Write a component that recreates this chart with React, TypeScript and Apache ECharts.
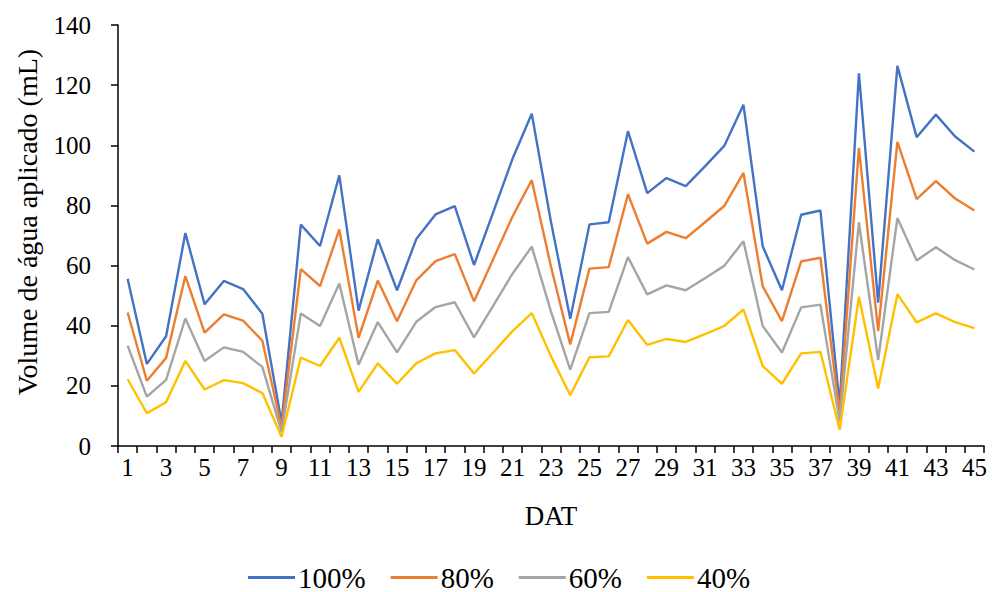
import React, { useEffect, useRef } from "react";
import * as echarts from "echarts";

const categories = Array.from({ length: 45 }, (_, i) => String(i + 1));

const s100 = [55.6, 27.3, 36.5, 70.8, 47.1, 54.9, 52.2, 44.0, 7.8, 73.6, 66.5, 90.0, 45.0, 68.7, 51.8, 68.8, 77.0, 79.8, 60.2, 77.8, 95.5, 110.5, 74.5, 42.3, 73.7, 74.4, 104.7, 84.1, 89.1, 86.4, 93.0, 99.8, 113.5, 66.4, 51.8, 76.9, 78.3, 13.5, 123.9, 47.7, 126.4, 102.7, 110.2, 102.9, 97.9];
const s80 = [44.4, 21.7, 29.3, 56.5, 37.7, 43.8, 41.7, 35.0, 6.2, 58.8, 53.2, 72.0, 36.0, 55.0, 41.5, 55.1, 61.5, 63.8, 48.1, 62.2, 76.3, 88.4, 59.6, 33.8, 59.0, 59.5, 83.7, 67.3, 71.2, 69.1, 74.4, 79.8, 90.8, 53.1, 41.5, 61.4, 62.6, 10.8, 99.1, 38.2, 101.1, 82.1, 88.1, 82.3, 78.3];
const s60 = [33.4, 16.4, 22.0, 42.4, 28.3, 32.8, 31.3, 26.3, 4.7, 44.1, 39.9, 54.0, 27.0, 41.2, 31.1, 41.3, 46.2, 47.8, 36.1, 46.7, 57.3, 66.3, 44.7, 25.4, 44.2, 44.6, 62.8, 50.4, 53.4, 51.8, 55.8, 59.9, 68.1, 39.9, 31.1, 46.1, 47.0, 8.1, 74.4, 28.6, 75.8, 61.7, 66.1, 61.8, 58.7];
const s40 = [22.2, 10.9, 14.6, 28.3, 18.8, 21.9, 20.9, 17.6, 3.1, 29.4, 26.6, 36.0, 18.0, 27.5, 20.7, 27.5, 30.8, 31.9, 24.1, 31.1, 38.2, 44.2, 29.8, 16.9, 29.5, 29.8, 41.9, 33.6, 35.6, 34.6, 37.2, 39.9, 45.4, 26.6, 20.7, 30.8, 31.3, 5.4, 49.6, 19.1, 50.5, 41.1, 44.1, 41.2, 39.2];

const seriesNames = ["100%", "80%", "60%", "40%"];
const seriesData = [s100, s80, s60, s40];
const colors = ["#4472C4", "#ED7D31", "#A5A5A5", "#FFC000"];
const yTitle = "Volume de água aplicado (mL)";

const FONT = "'Liberation Serif', 'Times New Roman', serif";

export default function App() {
  const ref = useRef<HTMLDivElement>(null);
  useEffect(() => {
    if (!ref.current) return;
    const chart = echarts.init(ref.current, undefined, { renderer: "svg" });
    chart.setOption({
      animation: false,
      backgroundColor: "#ffffff",
      textStyle: { fontFamily: FONT, color: "#000" },
      grid: { left: 118, right: 8, top: 25, bottom: 146, containLabel: false },
      legend: {
        bottom: -5,
        left: 243,
        itemWidth: 47,
        itemHeight: 14,
        itemGap: 25,
        icon: "path://M0,5.5L47,5.5L47,8.5L0,8.5Z",
        textStyle: { fontFamily: FONT, fontSize: 29, color: "#000", padding: [0, 0, 0, -2] },
        data: seriesNames,
      },
      graphic: [
        {
          type: "text",
          x: 27,
          y: 222,
          rotation: Math.PI / 2,
          style: {
            text: yTitle,
            font: `28px ${FONT}`,
            fill: "#000",
            align: "center",
            verticalAlign: "middle",
          },
        },
      ],
      xAxis: {
        type: "category",
        data: categories,
        boundaryGap: true,
        name: "DAT",
        nameLocation: "middle",
        nameGap: 56,
        nameTextStyle: { fontFamily: FONT, fontSize: 27, color: "#000" },
        axisLine: { lineStyle: { color: "#000", width: 1.5 } },
        axisTick: { show: true, interval: 0, length: 7, lineStyle: { color: "#000", width: 1.5 } },
        axisLabel: { interval: 1, margin: 9, fontFamily: FONT, fontSize: 25, color: "#000" },
        splitLine: { show: false },
      },
      yAxis: {
        type: "value",
        min: 0,
        max: 140,
        interval: 20,
        axisLine: { show: true, lineStyle: { color: "#000", width: 1.5 } },
        axisTick: { show: true, length: 7, lineStyle: { color: "#000", width: 1.5 } },
        axisLabel: { margin: 27, fontFamily: FONT, fontSize: 25, color: "#000" },
        splitLine: { show: false },
      },
      series: seriesNames.map((n, i) => ({
        name: n,
        type: "line",
        data: seriesData[i],
        symbol: "none",
        smooth: false,
        lineStyle: { color: colors[i], width: 2.4 },
        itemStyle: { color: colors[i] },
      })),
    });
    return () => chart.dispose();
  }, []);
  return <div ref={ref} style={{ width: 992, height: 592, position: "absolute", left: 0, top: 0 }} />;
}
